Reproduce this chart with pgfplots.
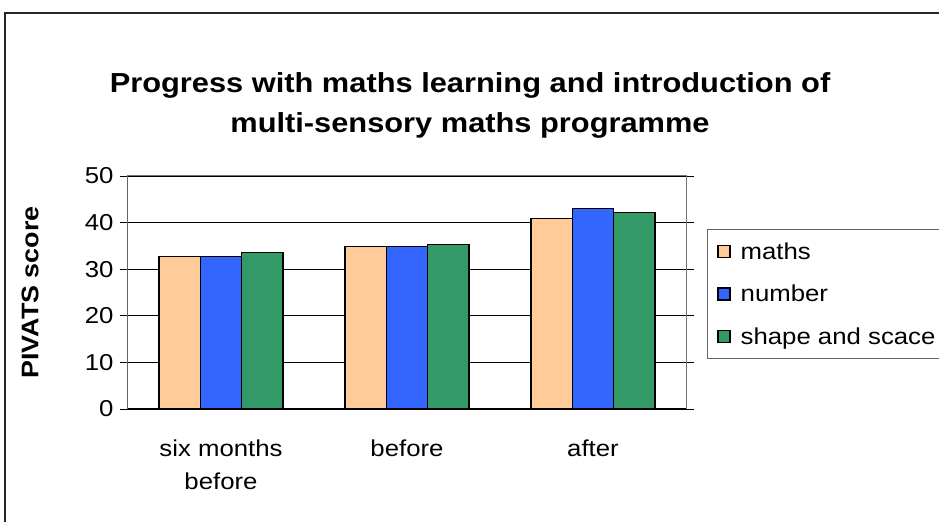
\documentclass[border=0pt]{standalone}
\usepackage{pgfplots}
\pgfplotsset{compat=1.18}
\usepackage{fontspec}
\setmainfont[FakeStretch=1.12]{Liberation Sans}
\definecolor{cPeach}{HTML}{FFCC99}
\definecolor{cBlue}{HTML}{3366FF}
\definecolor{cGreen}{HTML}{339966}
\begin{document}
\begin{tikzpicture}[x=1bp,y=1bp]
\useasboundingbox (-128,-113) rectangle (811,409);
\clip (-128,-113) rectangle (811,409);
\fill[white] (-128,-113) rectangle (811,409);
\draw[line width=1.6bp, black!85] (-123,-140) -- (-123,396) -- (830,396);
\node[font=\fontsize{27.5bp}{40bp}\bfseries\selectfont, align=center] at (342,304) {Progress with maths learning and introduction of\\multi-sensory maths programme};
\begin{axis}[
  scale only axis, width=558bp, height=233bp,
  ymin=0, ymax=50, ytick={0,10,20,30,40,50},
  xmin=-0.5, xmax=2.5,
  xtick={0,1,2},
  xticklabels={{six months\\before},{before},{after}},
  xticklabel style={align=center, font=\fontsize{23bp}{33bp}\selectfont, yshift=-19bp},
  yticklabel style={font=\fontsize{23bp}{26bp}\selectfont, xshift=-3bp},
  major x tick style={draw=none},
  extra x ticks={-0.5,0.5,1.5,2.5},
  extra x tick labels={},
  extra x tick style={major tick length=8bp, tick align=outside, tick style={draw=black, line width=0.8bp}, grid=none},
  ytick align=outside, major tick length=8bp,
  ytick style={draw=black, line width=0.8bp},
  ymajorgrids, grid style={black, line width=0.8bp},
  axis line style={draw=black!55, line width=1bp},
  ylabel={PIVATS score},
  every axis y label/.style={at={(rel axis cs:0,0.5)}, xshift=-98bp, rotate=90, anchor=center,
    font=\fontsize{24bp}{26bp}\bfseries\selectfont},
  /pgf/number format/assume math mode=true,
  ybar=0pt, bar width=0.222,
  legend style={at={(rel axis cs:1.0376,0.7725)}, anchor=north west, draw=black!60, line width=1bp,
    font=\fontsize{23bp}{26bp}\selectfont, row sep=20.3bp, inner ysep=11bp, inner xsep=10bp},
  legend cell align=left,
  legend image code/.code={\draw[#1, draw=black, line width=1.2bp] (0bp,-6bp) rectangle (12bp,6bp);},
]
\addplot[fill=cPeach, draw=black, line width=1.2bp] coordinates {(0,32.7) (1,34.8) (2,40.8)};
\addplot[fill=cBlue, draw=black, line width=1.2bp] coordinates {(0,32.7) (1,34.8) (2,43.05)};
\addplot[fill=cGreen, draw=black, line width=1.2bp] coordinates {(0,33.6) (1,35.25) (2,42.2)};
\legend{\hspace{8bp}maths,\hspace{8bp}number,\hspace{8bp}shape and scace\makebox[40bp]{}}
\draw[black, line width=1bp] (rel axis cs:0,1) -- (rel axis cs:0,0) -- (rel axis cs:1,0);
\end{axis}
\end{tikzpicture}
\end{document}
